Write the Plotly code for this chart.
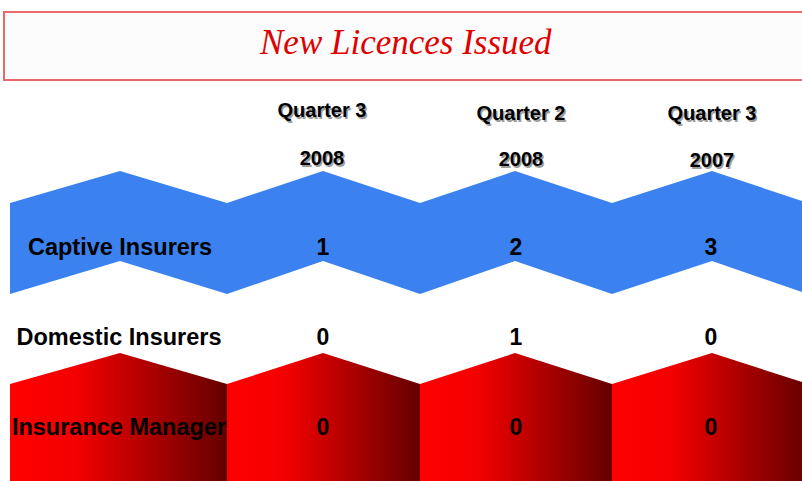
import plotly.graph_objects as go

# table content
quarters = ["Quarter 3", "Quarter 2", "Quarter 3"]
years = ["2008", "2008", "2007"]
categories = ["Captive Insurers", "Domestic Insurers", "Insurance Manager"]
captive = [1, 2, 3]
domestic = [0, 1, 0]
manager = [0, 0, 0]

W, H = 802, 481

# zigzag geometry (window pixel space)
col_edges = [10, 227, 420, 612, 808]
col_peaks = [120, 323, 515, 712]
head_x = [322, 521, 712]
quarter_y = [112, 115, 115]
year_y = [160, 161, 162]
val_x = [323, 516, 711]
row_y = [249, 339, 429]


def zigzag(valley, peak):
    xs, ys = [], []
    for i, p in enumerate(col_peaks):
        xs += [col_edges[i], p]
        ys += [valley, peak]
    xs.append(col_edges[-1])
    ys.append(valley)
    return xs, ys


fig = go.Figure()

# blue band
tx, ty = zigzag(203, 171)
bx, by = zigzag(294, 261)
fig.add_trace(go.Scatter(x=tx + bx[::-1] + [tx[0]],
                         y=ty + by[::-1] + [ty[0]],
                         mode='lines', fill='toself',
                         fillcolor='rgb(59,130,240)',
                         line=dict(width=0), hoverinfo='skip'))

# red blocks, one per column with a left-to-right gradient
for i, p in enumerate(col_peaks):
    x0, x1 = col_edges[i], col_edges[i + 1]
    fig.add_trace(go.Scatter(x=[x0, p, x1, x1, x0, x0],
                             y=[384, 353, 384, H + 5, H + 5, 384],
                             mode='lines', fill='toself',
                             fillgradient=dict(type='horizontal',
                                               colorscale=[[0, '#ff0000'], [0.3, '#f40000'],
                                                           [1, '#640000']]),
                             line=dict(width=0), hoverinfo='skip'))

bold = dict(family='Liberation Sans, Arial, sans-serif', size=21, color='black', weight='bold')

# header shadow + header text
for dx, col in [(1.5, 'rgba(90,90,90,0.6)'), (0, 'black')]:
    fig.add_trace(go.Scatter(x=[x + dx for x in head_x] * 2,
                             y=[y + dx for y in quarter_y + year_y],
                             text=quarters + years, mode='text',
                             textfont=dict(bold, color=col, size=20),
                             hoverinfo='skip'))

# row labels
fig.add_trace(go.Scatter(x=[120, 119, 119], y=row_y, text=categories, mode='text',
                         textfont=dict(bold, size=23.5), hoverinfo='skip'))

# values
for r, vals in enumerate([captive, domestic, manager]):
    fig.add_trace(go.Scatter(x=val_x, y=[row_y[r]] * 3, text=[str(v) for v in vals],
                             mode='text', textfont=dict(bold, size=23), hoverinfo='skip'))

# title box
fig.add_shape(type='rect', x0=4, x1=812, y0=12, y1=80, layer='below',
              line=dict(color='#e86a6a', width=2), fillcolor='#fcfcfc')
fig.add_annotation(x=405, y=42, text='New Licences Issued', showarrow=False,
                   font=dict(family='Liberation Serif, Times New Roman, serif', size=35,
                             color='#e00000', style='italic'))

fig.update_layout(width=W, height=H, margin=dict(l=0, r=0, t=0, b=0),
                  paper_bgcolor='white', plot_bgcolor='white', showlegend=False)
fig.update_xaxes(visible=False, range=[0, W], fixedrange=True)
fig.update_yaxes(visible=False, range=[H, 0], fixedrange=True)

# drop the default body margin so the figure fills the window exactly
fig.write_html("out.html", config=dict(displayModeBar=False),
               post_script="document.body.style.margin='0';document.body.style.overflow='hidden';")
